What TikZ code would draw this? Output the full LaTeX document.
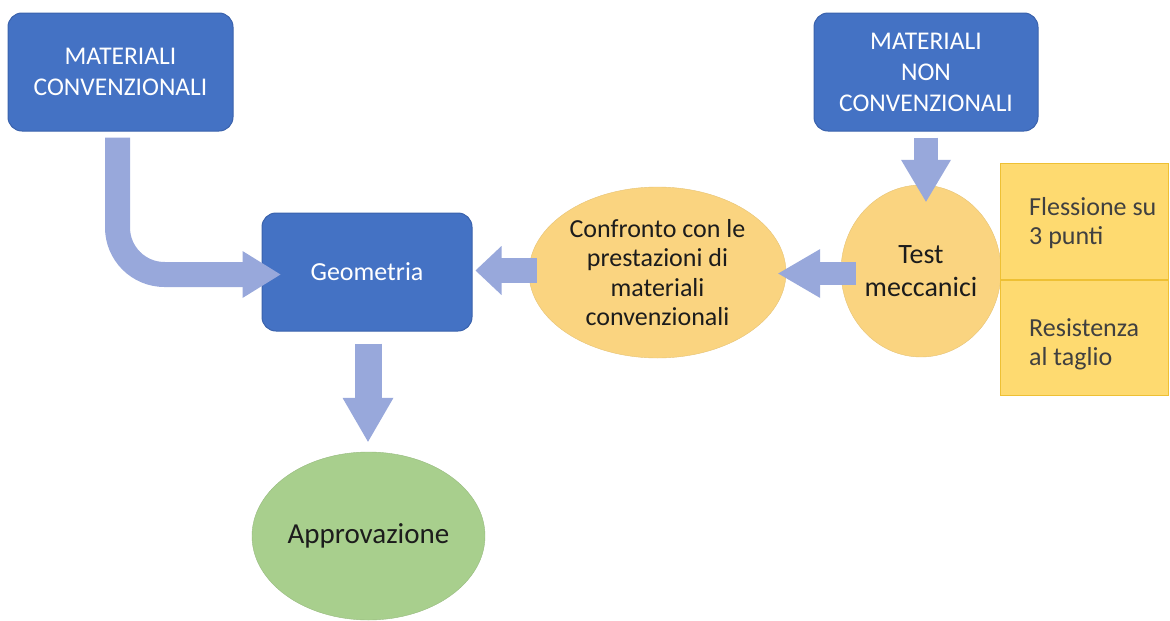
\documentclass[tikz,border=0pt]{standalone}
\usepackage{fontspec}
\setmainfont{Carlito}
\usetikzlibrary{shapes.geometric,calc}
\definecolor{boxblue}{RGB}{68,114,196}
\definecolor{boxborder}{RGB}{58,98,172}
\definecolor{arrowcol}{RGB}{152,168,219}
\definecolor{goldfill}{RGB}{250,212,128}
\definecolor{rectfill}{RGB}{254,218,112}
\definecolor{rectborder}{RGB}{238,192,52}
\definecolor{greenfill}{RGB}{168,207,141}
\definecolor{darktext}{RGB}{28,28,28}
\definecolor{graytext}{RGB}{64,64,64}
\newcommand{\blockarrow}[5]{%
  \coordinate (ba-base) at ($(#2)!#5pt!(#1)$);
  \coordinate (ba-in) at ($(#2)!#5pt-1pt!(#1)$);
  \draw[arrowcol, line width=#3pt] (#1) -- (ba-in);
  \fill[arrowcol] ($(ba-base)!#4pt!90:(#2)$) -- (#2) -- ($(ba-base)!#4pt!-90:(#2)$) -- cycle;
}
\begin{document}
\begin{tikzpicture}[x=1pt,y=-1pt,
  bluebox/.style={rectangle, rounded corners=14pt, fill=boxblue, draw=boxborder, line width=1pt,
    text=white, align=center, font=\fontsize{25.5}{31}\selectfont,
    minimum width=225pt, minimum height=118pt, inner sep=0pt},
  goldell/.style={ellipse, fill=goldfill, draw=goldfill!92!black, line width=0.4pt, text=darktext, align=center,
    font=\fontsize{26}{29.5}\selectfont, inner sep=0pt},
  testbox/.style={rectangle, fill=rectfill, draw=rectborder, line width=1.2pt,
    minimum width=168pt, inner sep=0pt},
  testtext/.style={text=graytext, align=left, font=\fontsize{26}{29}\selectfont, inner sep=0pt},
  greenell/.style={ellipse, fill=greenfill, draw=greenfill!90!black, line width=0.4pt, text=darktext,
    font=\fontsize{29}{34}\selectfont, inner sep=0pt}
]
\useasboundingbox (0,0) rectangle (1170,621);

% nodes
\node[bluebox] (mc) at (120.5,72) {MATERIALI\\CONVENZIONALI};
\node[bluebox, minimum width=224pt] (mnc) at (926,72) {MATERIALI\\NON\\CONVENZIONALI};
\node[bluebox, minimum width=210pt, font=\fontsize{26}{31}\selectfont] (geo) at (367,272) {Geometria};
\node[goldell, minimum width=257pt, minimum height=171pt] (conf) at (657.5,272.5)
  {Confronto con le\\prestazioni di\\materiali\\convenzionali};
\node[goldell, minimum width=160pt, minimum height=172pt, font=\fontsize{28}{33}\selectfont] (test) at (921,271)
  {Test\\meccanici};
\node[testbox, minimum height=116pt, anchor=north west] (r1) at (1000,163) {};
\node[testbox, minimum height=115pt, anchor=north west] (r2) at (r1.south west) {};
\node[testtext, anchor=west] (t1) at ($(r1.west)+(29,1)$) {Flessione su\\3 punti};
\node[testtext, anchor=west] (t2) at ($(r2.west)+(29,6)$) {Resistenza\\al taglio};
\node[greenell, minimum width=233pt, minimum height=168pt] (appr) at (368.5,536) {Approvazione};

% curved arrow from MATERIALI CONVENZIONALI to Geometria
\coordinate (a1s) at ($(mc.south)+(-3,6)$);
\coordinate (a1b) at ($(geo.west)+(-19,2.5)$);
\coordinate (a1t) at ($(geo.west)+(19,2.5)$);
\draw[arrowcol, line width=25pt, rounded corners=47pt] (a1s) |- ($(a1b)+(1,0)$);
\fill[arrowcol] ($(a1b)+(0,-23.5)$) -- (a1t) -- ($(a1b)+(0,23.5)$) -- cycle;

% straight block arrows
\coordinate (a2s) at ($(conf.west)+(8,-2)$);
\coordinate (a2t) at ($(geo.east)+(3,-1.5)$);
\blockarrow{a2s}{a2t}{25}{24.5}{26}
\coordinate (a3s) at ($(test.west)+(15,2.5)$);
\coordinate (a3t) at ($(conf.east)+(-8,1)$);
\blockarrow{a3s}{a3t}{23}{24.5}{42}
\coordinate (a4s) at ($(mnc.south)+(0,6)$);
\coordinate (a4t) at ($(test.north)+(5,17)$);
\blockarrow{a4s}{a4t}{24}{25}{42}
\coordinate (a5s) at ($(geo.south)+(1,12)$);
\coordinate (a5t) at ($(appr.north)+(-0.5,-10)$);
\blockarrow{a5s}{a5t}{27}{25.5}{44}
\end{tikzpicture}
\end{document}
